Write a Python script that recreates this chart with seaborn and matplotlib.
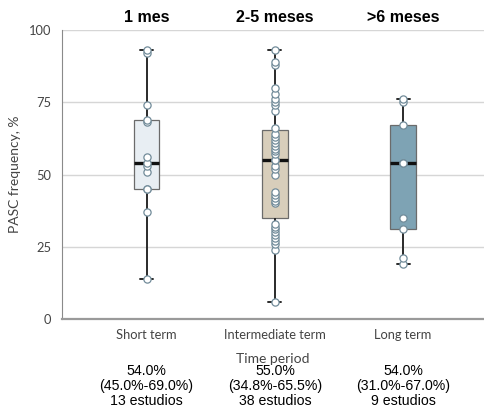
import pandas as pd
import matplotlib.pyplot as plt
import matplotlib.transforms as mtransforms
import seaborn as sns

periods = ["Short term", "Intermediate term", "Long term"]
headers = ["1 mes", "2-5 meses", ">6 meses"]
summaries = ["54.0%\n(45.0%-69.0%)\n13 estudios",
             "55.0%\n(34.8%-65.5%)\n38 estudios",
             "54.0%\n(31.0%-67.0%)\n9 estudios"]
box_colors = ["#e8eef3", "#d8cebb", "#7ea3b4"]

short_term = [14, 37, 45, 45, 51, 53, 54, 56, 68, 69, 74, 92, 93]
intermediate_term = [6, 24, 26, 27, 28, 29, 30, 31, 32, 33,
                     40.2, 41, 42, 43, 44, 50, 52, 53, 55, 55,
                     57, 58, 59, 60, 61, 62, 63, 64, 66, 72,
                     74, 75, 76, 78, 80, 88, 89, 93]
long_term = [19, 21, 31, 35, 54, 54, 67, 75, 76]

df = pd.concat([
    pd.DataFrame({"period": p, "value": v})
    for p, v in zip(periods, [short_term, intermediate_term, long_term])
], ignore_index=True)

sns.set_style("white")
plt.rcParams["font.family"] = ["Lato", "DejaVu Sans"]

f = plt.figure(figsize=(4.84, 4.17), dpi=100)
ax = f.add_axes([0.128, 0.235, 0.872, 0.693])

sns.boxplot(data=df, x="period", y="value", hue="period", order=periods,
            hue_order=periods, palette=box_colors, saturation=1, legend=False,
            width=0.2, whis=10, showfliers=False, ax=ax,
            boxprops=dict(edgecolor="#6b6b6b", linewidth=0.9),
            whiskerprops=dict(color="#2a2a2a", linewidth=1.4),
            capprops=dict(color="#2a2a2a", linewidth=1.4),
            medianprops=dict(color="#111111", linewidth=2.4))
sns.stripplot(data=df, x="period", y="value", order=periods, jitter=False,
              size=5.2, color="white", edgecolor="#718b99", linewidth=0.9,
              ax=ax, zorder=5, clip_on=False)

ax.set_ylim(0, 100)
ax.set_xlim(-0.66, 2.63)
ax.set_yticks([0, 25, 50, 75, 100])
ax.yaxis.grid(True, color="#d6d6d6", linewidth=1.0)
ax.set_axisbelow(True)
sns.despine(ax=ax, top=True, right=True)
ax.spines["left"].set_color("#8a8a8a")
ax.spines["left"].set_linewidth(0.8)
ax.spines["bottom"].set_color("#9a9a9a")
ax.spines["bottom"].set_linewidth(1.6)
ax.tick_params(axis="both", direction="out", length=4, width=1,
               color="#333333", labelsize=9.3, labelcolor="#444444")
ax.set_ylabel("PASC frequency, %", size=10, color="#444444", labelpad=6)
ax.set_xlabel("Time period", size=10, color="#444444", labelpad=8)

trans = mtransforms.blended_transform_factory(ax.transData, ax.transAxes)
for i, (h, s) in enumerate(zip(headers, summaries)):
    ax.text(i, 1.045, h, transform=trans, ha="center", va="center",
            fontsize=11.5, fontweight="bold", family="Liberation Sans", color="black")
    ax.text(i, -0.232, s, transform=trans, ha="center", va="center",
            fontsize=10.2, family="Liberation Sans", color="black", linespacing=1.05)

f.savefig("out.png", dpi=100)
plt.close("all")
